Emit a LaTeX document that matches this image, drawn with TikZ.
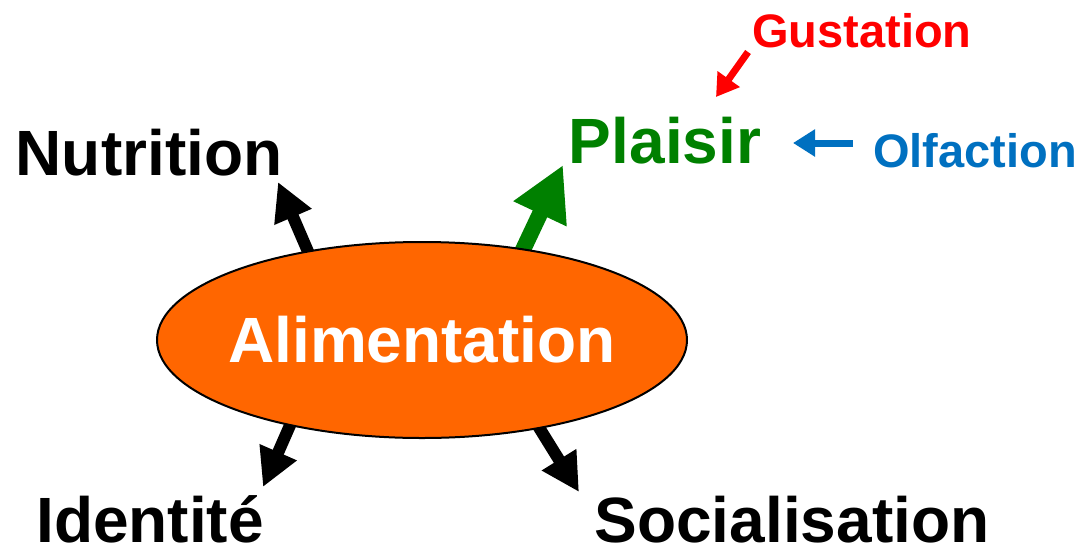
\documentclass[tikz,border=0pt]{standalone}
\usepackage{fontspec}
\setmainfont{Liberation Sans}
\usepackage{tikz}
\usetikzlibrary{shapes.geometric, arrows.meta, backgrounds}
\definecolor{fond}{HTML}{FF6600}
\definecolor{vert}{HTML}{008000}
\definecolor{rouge}{HTML}{FF0000}
\definecolor{bleu}{HTML}{0070C0}
\begin{document}
\begin{tikzpicture}[x=1pt, y=-1pt, core/.style={draw, ellipse, fill=fond, line width=2pt, minimum width=530pt, minimum height=196pt, inner xsep=-40pt, inner ysep=0pt, text=white, font=\fontsize{64}{72}\selectfont\bfseries}, big/.style={anchor=base, inner sep=0pt, font=\fontsize{64}{72}\selectfont\bfseries}, small/.style={anchor=base, inner sep=0pt, font=\fontsize{47}{53}\selectfont\bfseries}, n/.style={line width=12pt, -{Triangle[length=38pt, width=38pt]}, shorten <=-10pt}, g/.style={line width=16pt, vert, -{Triangle[length=54pt, width=55pt]}, shorten <=-10pt}, s/.style={line width=7pt, -{Triangle[length=22pt, width=26pt]}}]
                \useasboundingbox (0,0) rectangle (1083,554);
                % nodes
                \node[core] (alim) at (422,340) {Alimentation};
                \node[big] (nutri) at (149,175) {Nutrition};
                \node[big, text=vert] (plaisir) at (665,163) {Plaisir};
                \node[small, text=rouge] (gust) at (862,47) {Gustation};
                \node[small, text=bleu] (olf) at (975,167) {Olfaction};
                \node[big] (ident) at (150,542) {Identité};
                \node[big] (socia) at (792,542) {Socialisation};
                \coordinate (nutriTip) at (278,182);
                \coordinate (plaisirTip) at (563,165);
                \coordinate (identTip) at (263,487);
                \coordinate (sociaTip) at (579,492);
                \coordinate (gustFrom) at (748,52);
                \coordinate (gustTip) at (716,97);
                \coordinate (olfFrom) at (853,143);
                \coordinate (olfTip) at (793,143);
                % edges
                \begin{scope}[on background layer]
                \draw [n] (alim.142) -- (nutriTip);
                \draw [g] (alim.42) -- (plaisirTip);
                \draw [n] (alim.213) -- (identTip);
                \draw [n] (alim.323) -- (sociaTip);
                \end{scope}
                \draw [s, rouge] (gustFrom) -- (gustTip);
                \draw [s, bleu] (olfFrom) -- (olfTip);
            \end{tikzpicture}
\end{document}
